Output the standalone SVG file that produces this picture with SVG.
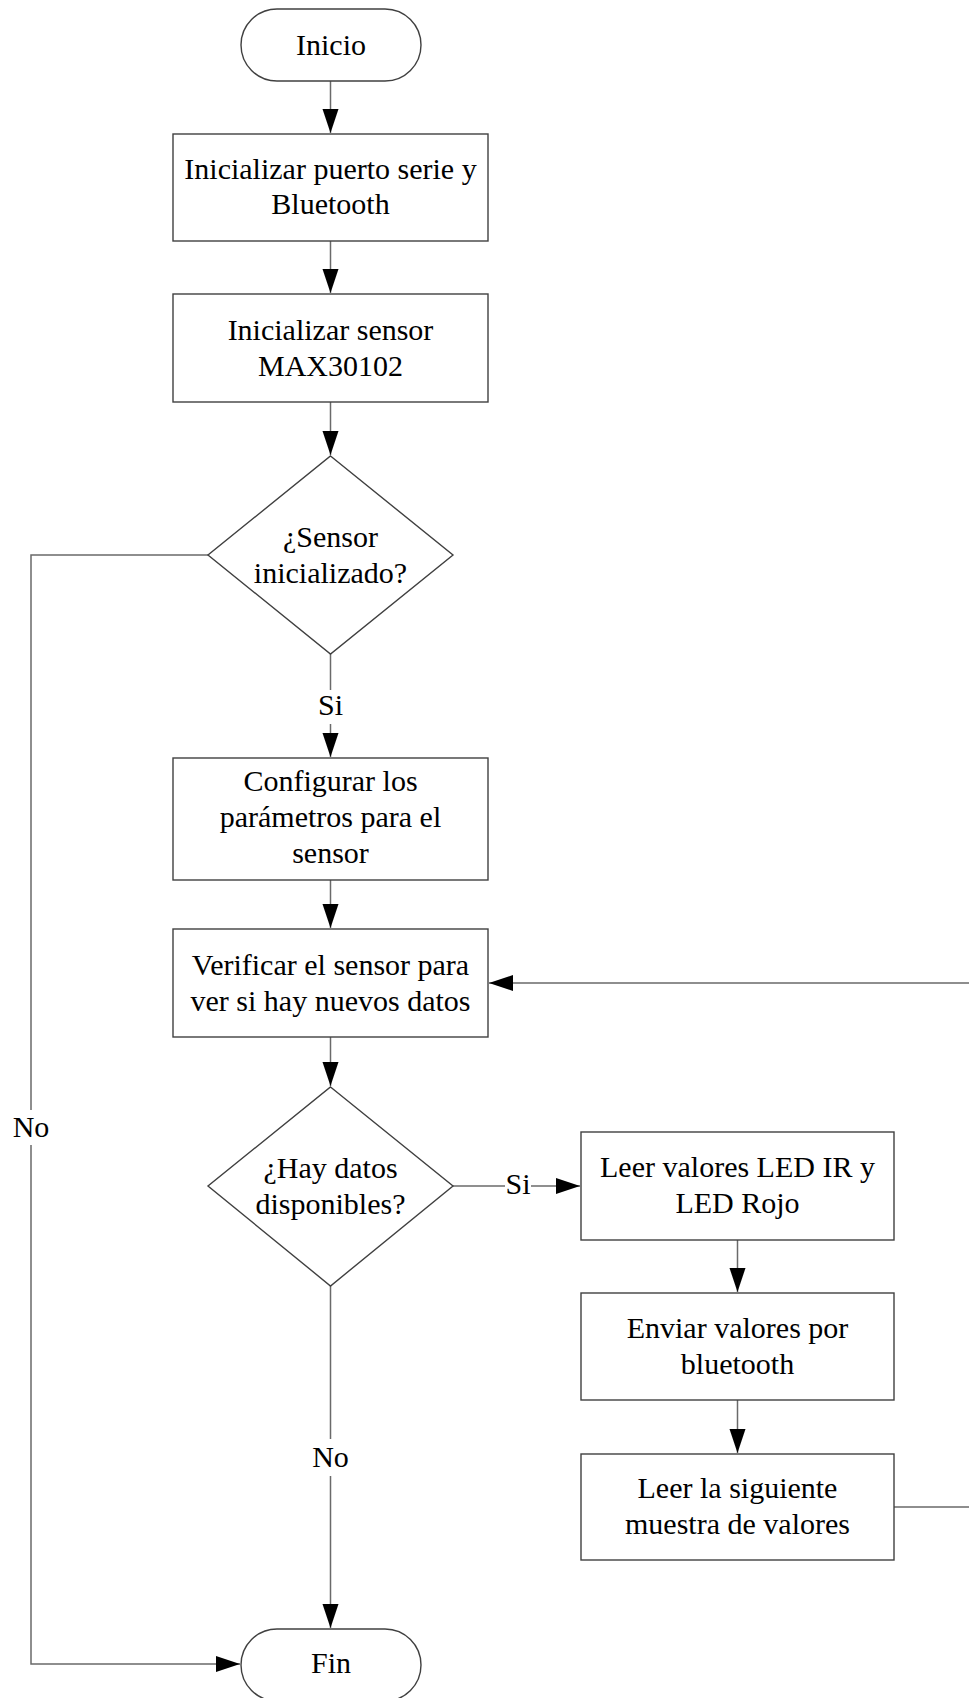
<svg xmlns="http://www.w3.org/2000/svg" width="969" height="1698" viewBox="0 0 969 1698">
<style>
.box{fill:#fff;stroke:#404040;stroke-width:1.4}
.t{font-family:'Liberation Serif','DejaVu Serif',serif;font-size:30px;fill:#000;text-anchor:middle}
.c{fill:none;stroke:#6a6a6a;stroke-width:1.5}
.lb{fill:#fff;stroke:none}
</style>
<defs>
<marker id="ah" markerUnits="userSpaceOnUse" markerWidth="26" markerHeight="18" refX="24" refY="8" orient="auto">
<path d="M0,0 L24,8 L0,16 Z" fill="#000"/>
</marker>
</defs>
<rect width="969" height="1698" fill="#fff"/>
<g id="connectors">
<path class="c" d="M330.5,81 V133" marker-end="url(#ah)"/>
<path class="c" d="M330.5,241 V293" marker-end="url(#ah)"/>
<path class="c" d="M330.5,402 V455" marker-end="url(#ah)"/>
<path class="c" d="M330.5,654 V757" marker-end="url(#ah)"/>
<path class="c" d="M330.5,880 V928" marker-end="url(#ah)"/>
<path class="c" d="M330.5,1037 V1086" marker-end="url(#ah)"/>
<path class="c" d="M208,555 H31 V1664 H240" marker-end="url(#ah)"/>
<path class="c" d="M453,1186 H580" marker-end="url(#ah)"/>
<path class="c" d="M737.5,1240 V1292" marker-end="url(#ah)"/>
<path class="c" d="M737.5,1400 V1453" marker-end="url(#ah)"/>
<path class="c" d="M330.5,1286 V1628" marker-end="url(#ah)"/>
<path class="c" d="M894,1507 H975 V983 H489" marker-end="url(#ah)"/>
<rect class="lb" x="317" y="690" width="28" height="34"/>
<text class="t" x="330.5" y="715">Si</text>
<rect class="lb" x="505" y="1170" width="26" height="32"/>
<text class="t" x="518" y="1194">Si</text>
<rect class="lb" x="313" y="1439" width="36" height="37"/>
<text class="t" x="330.5" y="1467">No</text>
<rect class="lb" x="12" y="1110" width="38" height="35"/>
<text class="t" x="31" y="1137">No</text>
</g>
<g id="inicio">
<rect class="box" x="241" y="9" width="180" height="72" rx="36" ry="36"/>
<text class="t" x="331" y="55">Inicio</text>
</g>
<g id="init-serial">
<rect class="box" x="173" y="134" width="315" height="107"/>
<text class="t" x="330.5" y="179">Inicializar puerto serie y</text>
<text class="t" x="330.5" y="214">Bluetooth</text>
</g>
<g id="init-sensor">
<rect class="box" x="173" y="294" width="315" height="108"/>
<text class="t" x="330.5" y="340">Inicializar sensor</text>
<text class="t" x="330.5" y="376">MAX30102</text>
</g>
<g id="dec-sensor">
<polygon class="box" points="330.5,456 453,555 330.5,654 208,555"/>
<text class="t" x="330.5" y="547">¿Sensor</text>
<text class="t" x="330.5" y="583">inicializado?</text>
</g>
<g id="config">
<rect class="box" x="173" y="758" width="315" height="122"/>
<text class="t" x="330.5" y="791">Configurar los</text>
<text class="t" x="330.5" y="827">parámetros para el</text>
<text class="t" x="330.5" y="863">sensor</text>
</g>
<g id="verificar">
<rect class="box" x="173" y="929" width="315" height="108"/>
<text class="t" x="330.5" y="975">Verificar el sensor para</text>
<text class="t" x="330.5" y="1011">ver si hay nuevos datos</text>
</g>
<g id="dec-datos">
<polygon class="box" points="330.5,1087 453,1186 330.5,1286 208,1186"/>
<text class="t" x="330.5" y="1178">¿Hay datos</text>
<text class="t" x="330.5" y="1214">disponibles?</text>
</g>
<g id="leer">
<rect class="box" x="581" y="1132" width="313" height="108"/>
<text class="t" x="737.5" y="1177">Leer valores LED IR y</text>
<text class="t" x="737.5" y="1213">LED Rojo</text>
</g>
<g id="enviar">
<rect class="box" x="581" y="1293" width="313" height="107"/>
<text class="t" x="737.5" y="1338">Enviar valores por</text>
<text class="t" x="737.5" y="1374">bluetooth</text>
</g>
<g id="siguiente">
<rect class="box" x="581" y="1454" width="313" height="106"/>
<text class="t" x="737.5" y="1498">Leer la siguiente</text>
<text class="t" x="737.5" y="1534">muestra de valores</text>
</g>
<g id="fin">
<rect class="box" x="241" y="1629" width="180" height="72" rx="36" ry="36"/>
<text class="t" x="331" y="1673">Fin</text>
</g>
</svg>
